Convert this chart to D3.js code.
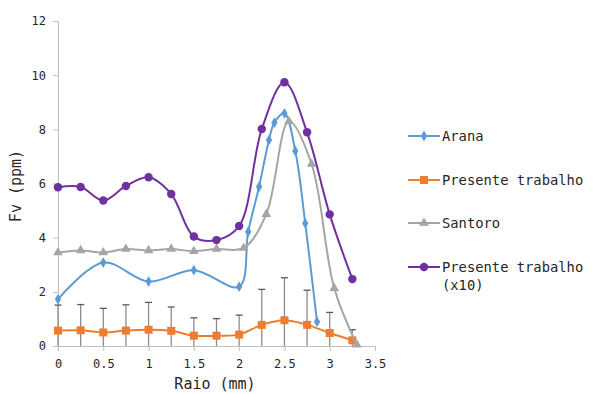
<!DOCTYPE html>
<html>
<head>
<meta charset="utf-8">
<script src="https://cdn.jsdelivr.net/npm/d3@7"></script>
<style>
  body { margin: 0; background: #fff; }
  svg { font-family: "DejaVu Sans Mono", monospace; }
</style>
</head>
<body>
<svg></svg>
<script>
// Arana (diamonds)
let aranaX = [0, 0.5, 1, 1.5, 2, 2.1, 2.22, 2.33, 2.39, 2.5, 2.62, 2.73, 2.86];
let aranaY = [1.73, 3.08, 2.38, 2.8, 2.19, 4.22, 5.88, 7.61, 8.25, 8.59, 7.2, 4.53, 0.9];

// Presente trabalho (squares) with error amounts
let presX = [0, 0.25, 0.5, 0.75, 1, 1.25, 1.5, 1.75, 2, 2.25, 2.5, 2.75, 3, 3.25];
let presY = [0.57, 0.58, 0.5, 0.57, 0.6, 0.56, 0.38, 0.38, 0.42, 0.78, 0.95, 0.78, 0.48, 0.21];
let presErr = [0.94, 0.95, 0.89, 0.95, 1.01, 0.88, 0.66, 0.63, 0.72, 1.31, 1.57, 1.28, 0.76, 0.39];

// Santoro (triangles)
let santX = [0, 0.25, 0.5, 0.75, 1, 1.25, 1.5, 1.75, 2.05, 2.3, 2.55, 2.8, 3.05, 3.3];
let santY = [3.45, 3.53, 3.45, 3.58, 3.53, 3.58, 3.5, 3.58, 3.62, 4.87, 8.3, 6.72, 2.13, 0.05];

// Presente trabalho (x10) (circles)
let x10X = [0, 0.25, 0.5, 0.75, 1, 1.25, 1.5, 1.75, 2, 2.25, 2.5, 2.75, 3, 3.25];
let x10Y = [5.86, 5.87, 5.37, 5.91, 6.23, 5.61, 4.04, 3.91, 4.43, 8.01, 9.74, 7.89, 4.86, 2.47];

let xTicks = [0, 0.5, 1, 1.5, 2, 2.5, 3, 3.5];
let yTicks = [0, 2, 4, 6, 8, 10, 12];

let width = 597;
let height = 394;
let textColor = "#262626";

let svg = d3.select("svg").attr("width", width).attr("height", height);

let xScale = d3.scaleLinear().domain([0, 3.5]).range([58, 375]);
let yScale = d3.scaleLinear().domain([0, 12]).range([346, 21]);

let zip = (xs, ys) => xs.map((x, i) => ({ x: x, y: ys[i] }));

let series = [
  { name: "Arana", data: zip(aranaX, aranaY), color: "#5B9BD5", symbol: d3.symbolDiamond, size: 34 },
  { name: "Presente trabalho", data: zip(presX, presY), color: "#ED7D31", symbol: d3.symbolSquare, size: 64 },
  { name: "Santoro", data: zip(santX, santY), color: "#A5A5A5", symbol: d3.symbolTriangle, size: 40 },
  { name: "Presente trabalho (x10)", data: zip(x10X, x10Y), color: "#7030A0", symbol: d3.symbolCircle, size: 56 },
];

let drawAxes = () => {
  let xAxis = d3.axisBottom(xScale).tickValues(xTicks).tickSize(5).tickSizeOuter(0)
    .tickFormat((d) => String(d));
  let yAxis = d3.axisLeft(yScale).tickValues(yTicks).tickSize(5).tickSizeOuter(0);

  let gx = svg.append("g").attr("transform", "translate(0," + yScale(0) + ")").call(xAxis);
  let gy = svg.append("g").attr("transform", "translate(" + xScale(0) + ",0)").call(yAxis);

  [gx, gy].forEach((g) => {
    g.select(".domain").attr("stroke", "#BFBFBF");
    g.selectAll(".tick line").attr("stroke", "#BFBFBF");
    g.selectAll(".tick text").attr("fill", textColor).style("font-size", "12px")
      .style("font-family", "DejaVu Sans Mono");
  });
  gx.selectAll(".tick text").attr("dy", "1.2em");
  gy.selectAll(".tick text").attr("x", -12);

  svg.append("text")
    .attr("x", 215).attr("y", 389)
    .attr("text-anchor", "middle")
    .attr("fill", textColor)
    .style("font-size", "15px")
    .text("Raio (mm)");

  svg.append("text")
    .attr("transform", "translate(21,186) rotate(-90)")
    .attr("text-anchor", "middle")
    .attr("fill", textColor)
    .style("font-size", "15px")
    .text("Fv (ppm)");
};

let drawErrorBars = () => {
  let pts = presX.map((x, i) => ({ x: x, y: presY[i], e: presErr[i] }));
  let g = svg.append("g");
  g.selectAll("line.err")
    .data(pts)
    .enter()
    .append("line")
    .attr("x1", (d) => xScale(d.x))
    .attr("x2", (d) => xScale(d.x))
    .attr("y1", (d) => yScale(Math.max(0, d.y - d.e)))
    .attr("y2", (d) => yScale(d.y + d.e))
    .attr("stroke", "#8C8C8C")
    .attr("stroke-width", 1.3);
  g.selectAll("line.cap")
    .data(pts)
    .enter()
    .append("line")
    .attr("x1", (d) => xScale(d.x) - 3.5)
    .attr("x2", (d) => xScale(d.x) + 3.5)
    .attr("y1", (d) => yScale(d.y + d.e))
    .attr("y2", (d) => yScale(d.y + d.e))
    .attr("stroke", "#595959")
    .attr("stroke-width", 1.3);
};

let drawSeries = () => {
  let line = d3.line()
    .x((d) => xScale(d.x))
    .y((d) => yScale(d.y))
    .curve(d3.curveCatmullRom.alpha(0.5));

  series.forEach((s) => {
    svg.append("path")
      .datum(s.data)
      .attr("d", line)
      .attr("fill", "none")
      .attr("stroke", s.color)
      .attr("stroke-width", 2);

    svg.append("g")
      .selectAll("path")
      .data(s.data)
      .enter()
      .append("path")
      .attr("d", d3.symbol().type(s.symbol).size(s.size))
      .attr("transform", (d) => "translate(" + xScale(d.x) + "," + yScale(d.y) + ")")
      .attr("fill", s.color);
  });
};

let drawLegend = () => {
  let rows = [136, 180, 223, 267];
  let legend = svg.append("g");
  series.forEach((s, i) => {
    let g = legend.append("g").attr("transform", "translate(0," + rows[i] + ")");
    g.append("line")
      .attr("x1", 408).attr("x2", 440)
      .attr("stroke", s.color)
      .attr("stroke-width", 2);
    g.append("path")
      .attr("d", d3.symbol().type(s.symbol).size(s.size))
      .attr("transform", "translate(424,0)")
      .attr("fill", s.color);
    let t = g.append("text")
      .attr("x", 442)
      .attr("dy", "0.35em")
      .attr("fill", textColor)
      .style("font-size", "13.8px");
    if (s.name === "Presente trabalho (x10)") {
      t.append("tspan").attr("x", 442).text("Presente trabalho");
      t.append("tspan").attr("x", 442).attr("dy", "1.3em").text("(x10)");
    } else {
      t.text(s.name);
    }
  });
};

drawAxes();
drawErrorBars();
drawSeries();
drawLegend();
</script>
</body>
</html>
